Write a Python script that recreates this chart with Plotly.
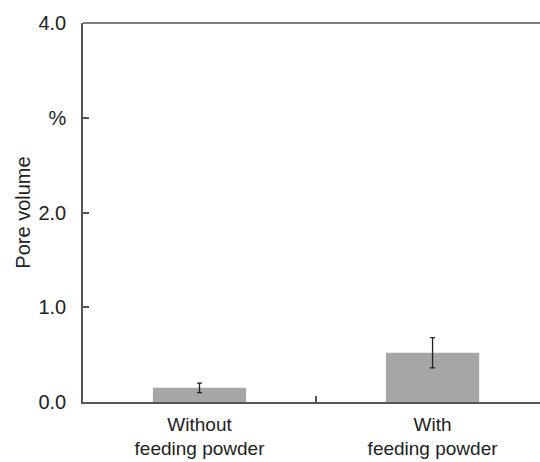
import plotly.graph_objects as go

categories = ["Without<br>feeding powder", "With<br>feeding powder"]
values = [0.15, 0.52]
errors = [0.05, 0.16]
ytick_vals = [0, 1, 2, 3, 4]
ytick_text = ["0.0", "1.0", "2.0", "%", "4.0"]

axis_color = "#555555"
font = dict(family="Liberation Sans, Arial, sans-serif", size=20, color="#222222")

fig = go.Figure(go.Bar(
    x=categories, y=values, width=0.4,
    marker=dict(color="#a6a6a6", line=dict(width=0)),
    error_y=dict(type="data", array=errors, visible=True, color="#222222", thickness=1.3, width=2.5),
))

fig.update_layout(
    width=540, height=462,
    margin=dict(l=83, r=0, t=23, b=60, autoexpand=False),
    paper_bgcolor="white", plot_bgcolor="white",
    font=font, showlegend=False,
    xaxis=dict(
        range=[-0.5, 1.461], showline=True, linecolor=axis_color, linewidth=1.5,
        ticks="inside", tickson="boundaries", ticklen=6, tickcolor=axis_color, tickwidth=1.5,
        showgrid=False, zeroline=False, mirror=False, ticklabelstandoff=4, automargin=False,
        tickfont=dict(size=19),
    ),
    yaxis=dict(
        range=[0, 4], tickvals=ytick_vals, ticktext=ytick_text,
        showline=True, linecolor=axis_color, linewidth=1.5,
        ticks="inside", ticklen=6, tickcolor=axis_color, tickwidth=1.5,
        showgrid=False, zeroline=False, ticklabelstandoff=11, automargin=False,
        title=dict(text="Pore volume", standoff=2, font=dict(size=20)),
    ),
    shapes=[dict(type="line", xref="paper", yref="paper", x0=0, x1=1, y0=1, y1=1,
                 line=dict(color=axis_color, width=1.5))],
)

fig.write_html(
    "out.html",
    config={"displayModeBar": False},
    post_script="document.body.style.margin='0px';document.body.style.overflow='hidden';",
)
